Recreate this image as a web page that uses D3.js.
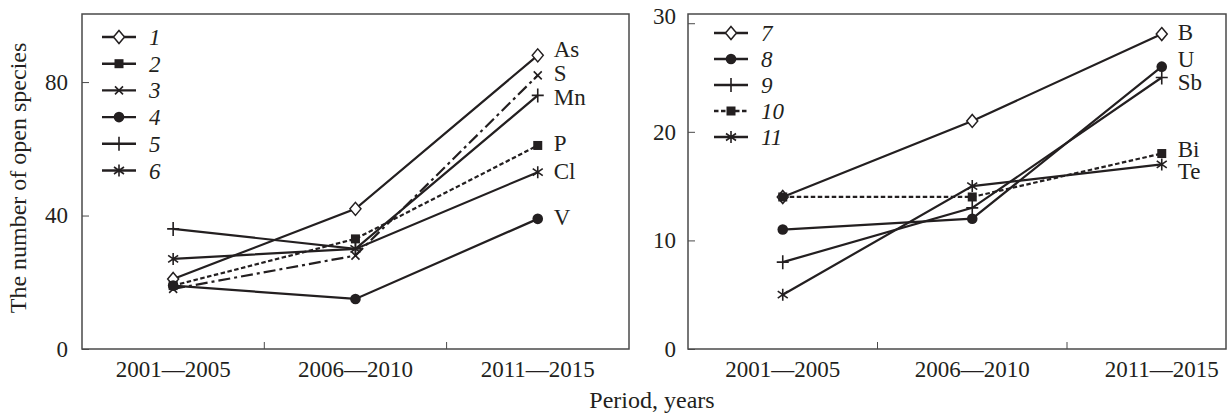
<!DOCTYPE html>
<html>
<head>
<meta charset="utf-8">
<script src="https://cdn.jsdelivr.net/npm/d3@7"></script>
<style>
  body { margin: 0; background: #fff; }
  text { font-family: "Liberation Serif", "Times New Roman", serif; fill: #231f20; }
</style>
</head>
<body>
<div id="chart-area"></div>
<script>
// ---- data ----
const periods = ["2001\u20142005", "2006\u20142010", "2011\u20142015"];

// left panel, series 1-6
const leftIds = ["1", "2", "3", "4", "5", "6"];
const leftElements = ["As", "P", "S", "V", "Mn", "Cl"];
const leftValues = [
  [21, 42, 88],   // 1 As
  [19, 33, 61],   // 2 P
  [18, 28, 82],   // 3 S
  [19, 15, 39],   // 4 V
  [36, 30, 76],   // 5 Mn
  [27, 30, 53]    // 6 Cl
];
const leftTicks = [0, 40, 80];

// right panel, series 7-11
const rightIds = ["7", "8", "9", "10", "11"];
const rightElements = ["B", "U", "Sb", "Bi", "Te"];
const rightValues = [
  [14, 21, 29],   // 7 B
  [11, 12, 26],   // 8 U
  [8, 13, 25],    // 9 Sb
  [14, 14, 18],   // 10 Bi
  [5, 15, 17]     // 11 Te
];
const rightTicks = [0, 10, 20, 30];

// ---- styles ----
const leftStyle = [
  {marker: "diamond", dash: null},
  {marker: "square", dash: "4.5,2.5"},
  {marker: "times", dash: "12,4,3,4"},
  {marker: "circle", dash: null},
  {marker: "plus", dash: null},
  {marker: "asterisk", dash: null}
];
const leftNudge = [-6, -3, -2, -2, 2, -1];

const rightStyle = [
  {marker: "diamond", dash: null},
  {marker: "circle", dash: null},
  {marker: "plus", dash: null},
  {marker: "square", dash: "4.5,2.5", legendDash: true},
  {marker: "asterisk", dash: null}
];
const rightNudge = [-2, -8, 4, -5, 7];

const WIDTH = 1227;
const HEIGHT = 418;
const INK = "#231f20";
const FS = 23;

const svg = d3.select("#chart-area").append("svg")
  .attr("width", WIDTH)
  .attr("height", HEIGHT);

const markerPaths = {
  diamond: "M0,-6.5L5.5,0L0,6.5L-5.5,0Z",
  times: "M-4,-4L4,4M-4,4L4,-4",
  plus: "M-6,0H6M0,-7V7",
  asterisk: "M0,-6V6M-5,-3.5L5,3.5M-5,3.5L5,-3.5"
};

function drawMarker(g, type, cx, cy) {
  if (type === "circle") {
    g.append("circle").attr("cx", cx).attr("cy", cy).attr("r", 5.3).attr("fill", INK);
  } else if (type === "square") {
    g.append("rect").attr("x", cx - 4.5).attr("y", cy - 4.5)
      .attr("width", 9).attr("height", 9).attr("fill", INK);
  } else if (type === "diamond") {
    g.append("path").attr("d", markerPaths.diamond)
      .attr("transform", `translate(${cx},${cy})`)
      .attr("fill", "#fff").attr("stroke", INK).attr("stroke-width", 1.5);
  } else {
    g.append("path").attr("d", markerPaths[type])
      .attr("transform", `translate(${cx},${cy})`)
      .attr("fill", "none").attr("stroke", INK).attr("stroke-width", 1.6);
  }
}

// one panel
function drawPanel(opt) {
  const x = d3.scaleBand().domain(periods).range([opt.left, opt.left + opt.bandW * 3]);
  const y = d3.scaleLinear().domain([0, opt.yMax]).range([opt.bottom, opt.top]);
  const g = svg.append("g");

  // frame
  g.append("rect")
    .attr("x", opt.left).attr("y", opt.top)
    .attr("width", opt.right - opt.left).attr("height", opt.bottom - opt.top)
    .attr("fill", "none").attr("stroke", "#4a4a4a").attr("stroke-width", 1.5);

  // y axis (ticks point inward)
  const yAxisGroup = g.append("g")
    .attr("transform", `translate(${opt.left},0)`)
    .call(d3.axisLeft(y).tickValues(opt.ticks).tickSize(-7).tickPadding(opt.yPad));
  yAxisGroup.select(".domain").remove();
  yAxisGroup.selectAll("line").attr("stroke", "#4a4a4a");
  yAxisGroup.selectAll("text").attr("font-size", FS).attr("font-family", null).attr("fill", INK);
  // top label sits at the frame edge in the original
  if (opt.topLabelShift) {
    yAxisGroup.selectAll(".tick").filter(d => d === opt.ticks[opt.ticks.length - 1])
      .select("text").attr("y", -opt.topLabelShift);
  }

  // x axis labels
  const xAxisGroup = g.append("g")
    .attr("transform", `translate(0,${opt.bottom})`)
    .call(d3.axisBottom(x).tickSize(0).tickPadding(12));
  xAxisGroup.select(".domain").remove();
  xAxisGroup.selectAll("text").attr("font-size", FS).attr("font-family", null).attr("fill", INK);

  // tick marks between bands
  g.selectAll(".sep").data(periods.slice(1)).enter().append("line")
    .attr("x1", d => x(d)).attr("x2", d => x(d))
    .attr("y1", opt.bottom).attr("y2", opt.bottom - 7)
    .attr("stroke", "#4a4a4a").attr("stroke-width", 1);

  const cx = p => x(p) + x.bandwidth() / 2;
  const line = d3.line().x((d, i) => cx(periods[i])).y(d => y(d));

  opt.values.forEach((vals, s) => {
    g.append("path").datum(vals)
      .attr("d", line)
      .attr("fill", "none").attr("stroke", INK).attr("stroke-width", 2.2)
      .attr("stroke-dasharray", opt.styles[s].dash);
  });
  opt.values.forEach((vals, s) => {
    vals.forEach((v, i) => drawMarker(g, opt.styles[s].marker, cx(periods[i]), y(v)));
    g.append("text")
      .attr("x", cx(periods[2]) + 16)
      .attr("y", y(vals[2]) + opt.nudge[s])
      .attr("dy", "0.35em")
      .attr("font-size", FS)
      .text(opt.elements[s]);
  });

  // legend
  opt.ids.forEach((id, s) => {
    const ly = opt.legendY + s * opt.legendStep;
    g.append("line")
      .attr("x1", opt.legendX).attr("x2", opt.legendX + 34)
      .attr("y1", ly).attr("y2", ly)
      .attr("stroke", INK).attr("stroke-width", 2.4)
      .attr("stroke-dasharray", opt.styles[s].legendDash ? "4.5,2.5" : null);
    drawMarker(g, opt.styles[s].marker, opt.legendX + 17, ly);
    g.append("text")
      .attr("x", opt.legendX + 47).attr("y", ly)
      .attr("dy", "0.35em")
      .attr("font-size", FS).attr("font-style", "italic")
      .text(id);
  });
}

drawPanel({
  left: 82, right: 629, bandW: 182.3, top: 14, bottom: 349, yMax: 100.4,
  ticks: leftTicks, yPad: 14, values: leftValues, styles: leftStyle,
  elements: leftElements, nudge: leftNudge, ids: leftIds,
  legendX: 102, legendY: 37, legendStep: 26.7
});

drawPanel({
  left: 688, right: 1226, bandW: 189.5, top: 14, bottom: 349, yMax: 30.85,
  ticks: rightTicks, yPad: 12, values: rightValues, styles: rightStyle,
  elements: rightElements, nudge: rightNudge, ids: rightIds,
  legendX: 714, legendY: 33, legendStep: 26, topLabelShift: 7
});

// axis titles
svg.append("text")
  .attr("transform", "rotate(-90)")
  .attr("x", -178).attr("y", 26)
  .attr("text-anchor", "middle")
  .attr("font-size", 24)
  .text("The number of open species");

svg.append("text")
  .attr("x", 652).attr("y", 408)
  .attr("text-anchor", "middle")
  .attr("font-size", 24)
  .text("Period, years");
</script>
</body>
</html>
